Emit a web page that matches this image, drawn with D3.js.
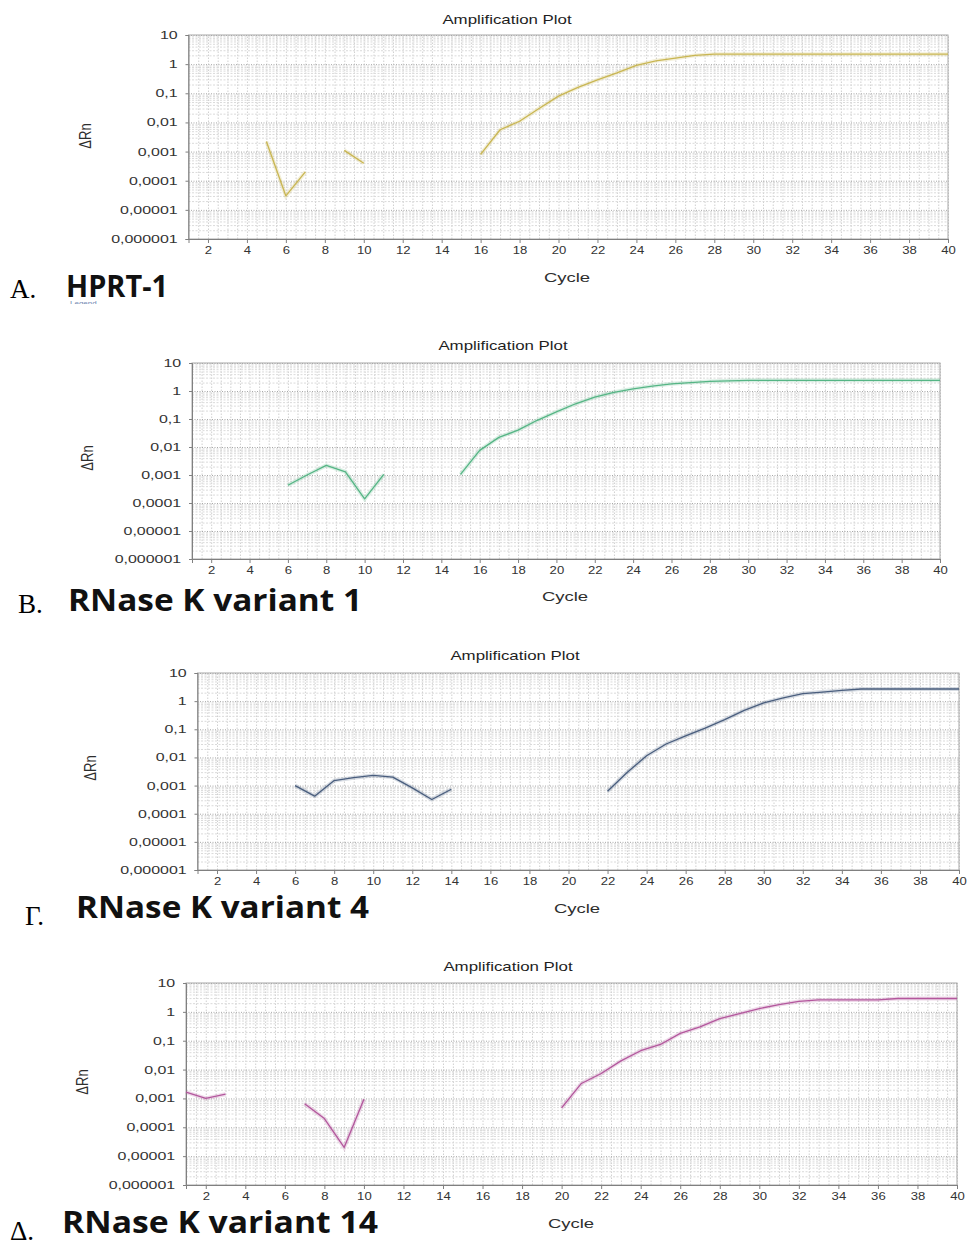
<!DOCTYPE html>
<html>
<head>
<meta charset="utf-8">
<script src="https://cdn.jsdelivr.net/npm/d3@7"></script>
<style>
body { margin: 0; background: #fff; }
svg { display: block; }
</style>
</head>
<body>
<div id="chart"></div>
<script>
// ---- data ----
var cycles = [1,2,3,4,5,6,7,8,9,10,11,12,13,14,15,16,17,18,19,20,
              21,22,23,24,25,26,27,28,29,30,31,32,33,34,35,36,37,38,39,40];
var xTicks = [2,4,6,8,10,12,14,16,18,20,22,24,26,28,30,32,34,36,38,40];
var yTickValues = [10, 1, 0.1, 0.01, 0.001, 0.0001, 0.00001, 0.000001];
var yTickLabels = ["10", "1", "0,1", "0,01", "0,001", "0,0001", "0,00001", "0,000001"];

// delta Rn per cycle, null = no point drawn
var hprt1 = [null,null,null,null,0.0022,0.00003,0.0002,null,0.0011,0.0004,
             null,null,null,null,null,0.0008,0.0056,0.011,0.03,0.08,
             0.16,0.29,0.5,0.9,1.3,1.6,2.0,2.2,2.2,2.2,
             2.2,2.2,2.2,2.2,2.2,2.2,2.2,2.2,2.2,2.2];
var rnaseK1 = [null,null,null,null,null,0.00043,0.001,0.0022,0.0013,0.00014,
               0.00105,null,null,null,0.00105,0.0076,0.022,0.04,0.09,0.18,
               0.35,0.6,0.9,1.2,1.5,1.8,2.0,2.2,2.3,2.4,
               2.4,2.4,2.4,2.4,2.4,2.4,2.4,2.4,2.4,2.4];
var rnaseK4 = [null,null,null,null,null,0.001,0.00042,0.0015,0.0019,0.0023,
               0.002,0.00083,0.00032,0.00074,null,null,null,null,null,null,
               null,0.00063,0.0029,0.0115,0.03,0.058,0.11,0.22,0.47,0.87,
               1.3,1.86,2.1,2.4,2.7,2.7,2.7,2.7,2.7,2.7];
var rnaseK14 = [0.00166,0.001,0.0014,null,null,null,0.00065,0.0002,0.00002,0.00093,
                null,null,null,null,null,null,null,null,null,0.00047,
                0.0033,0.0073,0.02,0.045,0.074,0.18,0.3,0.58,0.87,1.3,
                1.78,2.3,2.6,2.6,2.6,2.6,2.9,2.9,2.9,2.9];

var panelSeries = [hprt1, rnaseK1, rnaseK4, rnaseK14];
var panelNames = ["HPRT-1", "RNase K variant 1", "RNase K variant 4", "RNase K variant 14"];
var panelLetters = ["A.", "B.", "\u0393.", "\u0394."];

// ---- layout ----
var layout = [
  {left:188.5, right:948, top:35,  bottom:239,  titleX:507, titleY:24,   cycleX:567, cycleY:282,
   yLabX:85, yLabY:136, letterX:10, letterY:298, nameX:66, nameY:297, nameW:102, color:"#c9b652"},
  {left:192,   right:940, top:363, bottom:559,  titleX:503, titleY:350,  cycleX:565, cycleY:601,
   yLabX:87, yLabY:458, letterX:18, letterY:613, nameX:68, nameY:611, nameW:294, color:"#55b585"},
  {left:197.5, right:959, top:673, bottom:870,  titleX:515, titleY:660,  cycleX:577, cycleY:913,
   yLabX:90, yLabY:768, letterX:25, letterY:925, nameX:76, nameY:918, nameW:293, color:"#4a5e7e"},
  {left:186,   right:957, top:983, bottom:1185, titleX:508, titleY:971,  cycleX:571, cycleY:1228,
   yLabX:82, yLabY:1082, letterX:10, letterY:1240, nameX:62, nameY:1233, nameW:316, color:"#b3579d"}
];

var W = 968, H = 1247;
var sx = 1.45; // the source picture is stretched sideways

var svg = d3.select("#chart").append("svg")
    .attr("width", W)
    .attr("height", H);

svg.append("rect").attr("width", W).attr("height", H).attr("fill", "#fff");

// minor log grid values
var minorY = [];
[-6,-5,-4,-3,-2,-1,0].forEach(function(e) {
  for (var k = 2; k <= 9; k++) minorY.push(k * Math.pow(10, e));
});
var halfCycles = [];
for (var c = 1.5; c <= 40; c += 0.5) halfCycles.push(c);

layout.forEach(function(L, i) {
  var x = d3.scaleLinear().domain([1, 40]).range([L.left, L.right]);
  var y = d3.scaleLog().domain([0.000001, 10]).range([L.bottom, L.top]);
  var g = svg.append("g").attr("class", "panel");

  // grid
  var grid = g.append("g").attr("class", "grid");
  grid.append("g").attr("transform", "translate(0," + L.bottom + ")")
      .call(d3.axisBottom(x).tickValues(halfCycles).tickSize(-(L.bottom - L.top)).tickFormat(""))
      .call(function(s) {
        s.select(".domain").remove();
        s.selectAll("line").attr("stroke", "#d0d0d0").attr("stroke-dasharray", "1.5,1.5");
      });
  grid.append("g").attr("transform", "translate(" + L.left + ",0)")
      .call(d3.axisLeft(y).tickValues(minorY).tickSize(-(L.right - L.left)).tickFormat(""))
      .call(function(s) {
        s.select(".domain").remove();
        s.selectAll("line").attr("stroke", "#dadada").attr("stroke-dasharray", "2,1.5");
      });
  grid.append("g").attr("transform", "translate(" + L.left + ",0)")
      .call(d3.axisLeft(y).tickValues(yTickValues).tickSize(-(L.right - L.left)).tickFormat(""))
      .call(function(s) {
        s.select(".domain").remove();
        s.selectAll("line").attr("stroke", "#a8a8a8").attr("stroke-dasharray", "1,1.5");
      });

  // frame
  g.append("rect")
      .attr("x", L.left).attr("y", L.top)
      .attr("width", L.right - L.left).attr("height", L.bottom - L.top)
      .attr("fill", "none").attr("stroke", "#a8a8a8");

  // axes
  var yAxis = d3.axisLeft(y).tickValues(yTickValues).tickSize(3).tickPadding(4.5)
      .tickFormat(function(d, j) { return yTickLabels[j]; });
  g.append("g").attr("class", "y axis")
      .attr("transform", "translate(" + L.left + ",0)")
      .call(yAxis)
      .call(function(s) {
        s.select(".domain").attr("stroke", "#808080");
        s.selectAll(".tick line").attr("stroke", "#808080");
        s.selectAll("text")
          .attr("fill", "#333")
          .style("font-family", "'Liberation Sans', Arial, sans-serif")
          .style("font-size", "11px")
          .attr("transform", "scale(" + sx + ",1)");
      });

  var xAxis = d3.axisBottom(x).tickValues(xTicks).tickSize(4).tickPadding(4)
      .tickFormat(d3.format("d"));
  g.append("g").attr("class", "x axis")
      .attr("transform", "translate(0," + L.bottom + ")")
      .call(xAxis)
      .call(function(s) {
        s.select(".domain").attr("stroke", "#808080");
        s.selectAll(".tick line").attr("stroke", "#808080");
        s.selectAll("text")
          .attr("fill", "#333")
          .style("font-family", "'Liberation Sans', Arial, sans-serif")
          .style("font-size", "10.5px")
          .attr("transform", "scale(1.25,1)");
      });

  // series
  var line = d3.line()
      .defined(function(d) { return d != null; })
      .x(function(d, j) { return x(cycles[j]); })
      .y(function(d) { return y(d); })
      .curve(d3.curveLinear);

  g.append("path")
      .attr("d", line(panelSeries[i]))
      .attr("fill", "none")
      .attr("stroke", L.color)
      .attr("stroke-opacity", 0.22)
      .attr("stroke-width", 4);
  g.append("path")
      .attr("d", line(panelSeries[i]))
      .attr("fill", "none")
      .attr("stroke", L.color)
      .attr("stroke-width", 1.3)
      .attr("stroke-linejoin", "round");

  // texts
  g.append("text")
      .attr("transform", "translate(" + L.titleX + "," + L.titleY + ") scale(1.35,1)")
      .attr("text-anchor", "middle")
      .attr("fill", "#1e1e1e")
      .style("font-family", "'Liberation Sans', Arial, sans-serif")
      .style("font-size", "12.5px")
      .text("Amplification Plot");

  g.append("text")
      .attr("transform", "translate(" + L.cycleX + "," + L.cycleY + ") scale(1.37,1)")
      .attr("text-anchor", "middle")
      .attr("fill", "#2e2e2e")
      .style("font-family", "'Liberation Sans', Arial, sans-serif")
      .style("font-size", "13.5px")
      .text("Cycle");

  g.append("text")
      .attr("transform", "translate(" + L.yLabX + "," + L.yLabY + ") scale(1.3,1) rotate(-90)")
      .attr("text-anchor", "middle")
      .attr("dy", "0.35em")
      .attr("fill", "#2e2e2e")
      .style("font-family", "'Liberation Sans', Arial, sans-serif")
      .style("font-size", "13px")
      .text("\u0394Rn");

  g.append("text")
      .attr("x", L.letterX).attr("y", L.letterY)
      .attr("fill", "#000")
      .style("font-family", "'Liberation Serif', 'Times New Roman', serif")
      .style("font-size", "27px")
      .text(panelLetters[i]);

  g.append("text")
      .attr("x", L.nameX).attr("y", L.nameY)
      .attr("textLength", L.nameW)
      .attr("lengthAdjust", "spacingAndGlyphs")
      .attr("fill", "#111")
      .style("font-family", "'Open Sans', 'Noto Sans', sans-serif")
      .style("font-weight", "700")
      .style("font-size", "30px")
      .text(panelNames[i]);
});

// cut-off legend caption under the first panel
svg.append("defs").append("clipPath").attr("id", "legclip")
  .append("rect").attr("x", 60).attr("y", 299).attr("width", 60).attr("height", 5);
svg.append("text")
    .attr("x", 70).attr("y", 306)
    .attr("clip-path", "url(#legclip)")
    .attr("fill", "#6f86b0")
    .style("font-family", "'Liberation Sans', Arial, sans-serif")
    .style("font-size", "8px")
    .text("Legend");
</script>
</body>
</html>
